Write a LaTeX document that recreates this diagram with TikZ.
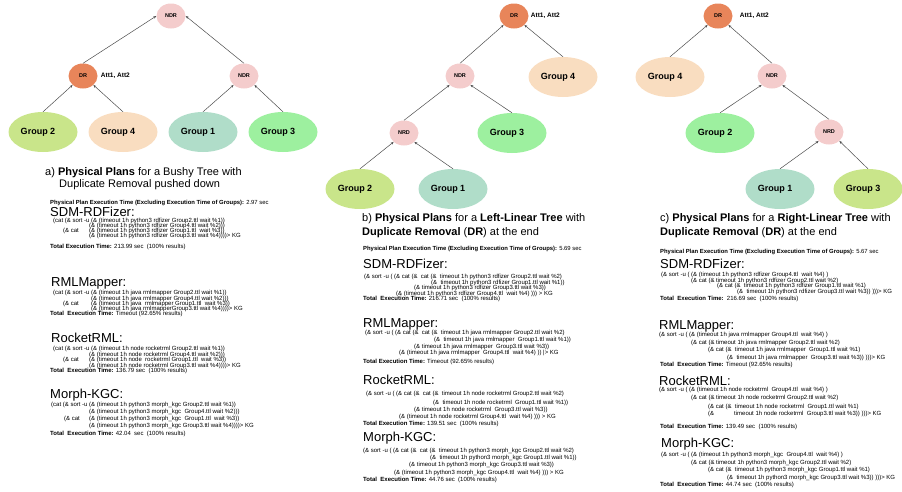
\documentclass[tikz,border=0pt]{standalone}
\usepackage{fontspec}
\setmainfont{Liberation Sans}
\usepackage{tikz}
\usetikzlibrary{shapes.geometric, arrows.meta, positioning}

\definecolor{ndrpink}{HTML}{F4CCCC}
\definecolor{drorange}{HTML}{E8855A}
\definecolor{limegrp}{HTML}{C9E58A}
\definecolor{peachgrp}{HTML}{F9DDC0}
\definecolor{mintgrp}{HTML}{B0DDC9}
\definecolor{greengrp}{HTML}{9DF09F}

\begin{document}
\begin{tikzpicture}[
    x=1pt, y=-1pt,
    opnode/.style={ellipse, minimum width=29pt, minimum height=25pt, inner sep=0pt, font=\fontsize{5.5}{6}\selectfont\bfseries},
    ndr/.style={opnode, fill=ndrpink},
    dr/.style={opnode, fill=drorange},
    grp/.style={ellipse, minimum width=69pt, minimum height=40pt, inner sep=0pt, font=\fontsize{9}{10}\selectfont\bfseries, execute at end node={\hspace{10pt}}},
    att/.style={font=\fontsize{6.5}{7}\selectfont\bfseries, inner sep=0pt},
    flow/.style={-{Stealth[length=3pt,width=2.4pt]}, line width=0.5pt, black!70},
    title/.style={font=\fontsize{11}{12}\selectfont, anchor=west, inner sep=0pt},
    ptime/.style={font=\fontsize{5.9}{6}\selectfont, anchor=west, inner sep=0pt},
    tool/.style={font=\fontsize{13}{14}\selectfont, anchor=west, inner sep=0pt},
    code/.style={font=\fontsize{6}{6}\selectfont, anchor=west, inner sep=0pt}
]
\useasboundingbox (0,0) rectangle (902,491);

% a) bushy tree
\node[ndr] (ndra)  at (171,16) {NDR};
\node[dr]  (dra)   at (83,76)  {DR};
\node[ndr] (ndrra) at (244,76) {NDR};
\node[att, right=3pt of dra] (atta) {Att1, Att2};
\node[grp, fill=limegrp]  (g2a) at (43,132)  {Group 2};
\node[grp, fill=peachgrp] (g4a) at (123,132) {Group 4};
\node[grp, fill=mintgrp]  (g1a) at (203,132) {Group 1};
\node[grp, fill=greengrp] (g3a) at (283,132) {Group 3};

\draw[flow] (dra.north) -- (ndra.west);
\draw[flow] (ndrra.north) -- (ndra.east);
\foreach \c/\p in {g2a/dra, g1a/ndrra} {
    \draw[flow] (\c.north) -- (\p.south west);
}
\foreach \c/\p in {g4a/dra, g3a/ndrra} {
    \draw[flow] (\c.north) -- (\p.south east);
}

% b) left-linear tree
\node[dr]  (drb)  at (514,16) {DR};
\node[att, right=2pt of drb] (attb) {Att1, Att2};
\node[ndr] (ndrb) at (460,76) {NDR};
\node[grp, fill=peachgrp] (g4b) at (563,77) {Group 4};
\node[ndr] (nrdb) at (404,133) {NRD};
\node[grp, fill=greengrp] (g3b) at (512,133) {Group 3};
\node[grp, fill=limegrp]  (g2b) at (360,189) {Group 2};
\node[grp, fill=mintgrp]  (g1b) at (453,189) {Group 1};

\foreach \c/\p in {ndrb/drb, nrdb/ndrb, g2b/nrdb} {
    \draw[flow] (\c.north) -- (\p.south west);
}
\foreach \c/\p in {g4b/drb, g3b/ndrb, g1b/nrdb} {
    \draw[flow] (\c.north) -- (\p.south east);
}

% c) right-linear tree
\node[dr]  (drc)  at (718,16) {DR};
\node[att, right=7pt of drc] (attc) {Att1, Att2};
\node[grp, fill=peachgrp] (g4c) at (670,77) {Group 4};
\node[ndr] (ndrc) at (772,76) {NDR};
\node[grp, fill=greengrp] (g2c) at (720,133) {Group 2};
\node[ndr] (nrdc) at (829,132) {NRD};
\node[grp, fill=mintgrp]  (g1c) at (780,189) {Group 1};
\node[grp, fill=limegrp]  (g3c) at (868,189) {Group 3};

\foreach \c/\p in {g4c/drc, g2c/ndrc, g1c/nrdc} {
    \draw[flow] (\c.north) -- (\p.south west);
}
\foreach \c/\p in {ndrc/drc, nrdc/ndrc, g3c/nrdc} {
    \draw[flow] (\c.north) -- (\p.south east);
}

% captions
\node[title] (tita1) at (45,173) {a) \textbf{Physical Plans} for a Bushy Tree with};
\node[title] (tita2) at (59,185) {Duplicate Removal pushed down};
\node[title] (titb1) at (362,219) {b) \textbf{Physical Plans} for a \textbf{Left-Linear Tree} with};
\node[title] (titb2) at (362,233) {\textbf{Duplicate Removal} (\textbf{DR}) at the end};
\node[title] (titc1) at (660,219) {c) \textbf{Physical Plans} for a \textbf{Right-Linear Tree} with};
\node[title] (titc2) at (660,233) {\textbf{Duplicate Removal} (\textbf{DR}) at the end};

\node[ptime] (pta) at (50,203)  {\textbf{Physical Plan Execution Time (Excluding Execution Time of Groups):} 2.97 sec};
\node[ptime] (ptb) at (363,249) {\textbf{Physical Plan Execution Time (Excluding Execution Time of Groups):} 5.69 sec};
\node[ptime] (ptc) at (660,252) {\textbf{Physical Plan Execution Time (Excluding Execution Time of Groups):} 5.67 sec};

% tool names
\foreach \x/\y/\nm [count=\i] in {50/212/SDM-RDFizer:, 51/283/RMLMapper:, 51/338/RocketRML:, 50/395/Morph-KGC:} {
    \node[tool] (toola\i) at (\x,\y) {\nm};
}
\foreach \x/\y/\nm [count=\i] in {363/264/SDM-RDFizer:, 363/324/RMLMapper:, 363/380/RocketRML:, 363/438/Morph-KGC:} {
    \node[tool] (toolb\i) at (\x,\y) {\nm};
}
\foreach \x/\y/\nm [count=\i] in {660/264/SDM-RDFizer:, 659/326/RMLMapper:, 659/381/RocketRML:, 661/444/Morph-KGC:} {
    \node[tool] (toolc\i) at (\x,\y) {\nm};
}

% a) code lines
\foreach \x/\y/\txt [count=\i] in {
    53/221/{(cat (\& sort -u (\& (timeout 1h python3 rdfizer Group2.ttl wait \%1))},
    89/226/{(\& (timeout 1h python3 rdfizer Group4.ttl wait \%2)))},
    63/231/{(\& cat},
    89/231/{(\& (timeout 1h python3 rdfizer Group1.ttl\ \ wait \%3))},
    89/236/{(\& (timeout 1h python3 rdfizer Group3.ttl wait \%4))))> KG},
    50/247/{\textbf{Total Execution Time:} 213.99 sec\ \ (100\% results)}} {
    \node[code] (sdma\i) at (\x,\y) {\txt};
}
\foreach \x/\y/\txt [count=\i] in {
    53/293/{(cat (\& sort -u (\& (timeout 1h java rmlmapper Group2.ttl wait \%1))},
    91/299/{(\& (timeout 1h java rmlmapper Group4.ttl wait \%2)))},
    63/304/{(\& cat},
    91/304/{(\& (timeout 1h java\ \ rmlmapper Group1.ttl\ \ wait \%3))},
    91/309/{(\& (timeout 1h java rmlmapperGroup3.ttl wait \%4))))> KG},
    50/314/{\textbf{Total\ \ Execution Time:} Timeout (92.65\% results)}} {
    \node[code] (rmla\i) at (\x,\y) {\txt};
}
\foreach \x/\y/\txt [count=\i] in {
    53/349/{(cat (\& sort -u (\& (timeout 1h node rocketrml Group2.ttl wait \%1))},
    89/355/{(\& (timeout 1h node rocketrml Group4.ttl wait \%2)))},
    63/360/{(\& cat},
    89/360/{(\& (timeout 1h node\ \ rocketrml Group1.ttl\ \ wait \%3))},
    89/366/{(\& (timeout 1h node rocketrml Group3.ttl wait \%4))))> KG},
    50/371/{\textbf{Total\ \ Execution Time:} 136.79 sec\ \ (100\% results)}} {
    \node[code] (rocka\i) at (\x,\y) {\txt};
}
\foreach \x/\y/\txt [count=\i] in {
    51/405/{(cat (\& sort -u (\& (timeout 1h python3 morph\_kgc Group2.ttl wait \%1))},
    89/412/{(\& (timeout 1h python3 morph\_kgc\ \ Group4.ttl wait \%2)))},
    64/419/{(\& cat},
    89/419/{(\& (timeout 1h python3 morph\_kgc\ \ Group1.ttl\ \ wait \%3))},
    89/426/{(\& (timeout 1h python3 morph\_kgc Group3.ttl wait \%4))))> KG},
    50/434/{\textbf{Total\ \ Execution Time:} 42.04\ \ sec\ \ (100\% results)}} {
    \node[code] (morpha\i) at (\x,\y) {\txt};
}

% b) code lines
\foreach \x/\y/\txt [count=\i] in {
    364/277/{(\& sort -u ( (\& cat (\&\ \ cat (\&\ \ timeout 1h python3 rdfizer Group2.ttl wait \%2)},
    431/283/{(\&\ \ timeout 1h python3 rdfizer Group1.ttl wait \%1))},
    414/288/{(\& timeout 1h python3 rdfizer Group3.ttl wait \%3))},
    396/294/{(\& (timeout 1h python3 rdfizer Group4.ttl\ \ wait \%4) ))) > KG},
    363/299/{\textbf{Total\ \ Execution Time:} 216.71 sec\ \ (100\% results)}} {
    \node[code] (sdmb\i) at (\x,\y) {\txt};
}
\foreach \x/\y/\txt [count=\i] in {
    365/333/{(\& sort -u ( (\& cat (\&\ \ cat (\&\ \ timeout 1h java rmlmapper Group2.ttl wait \%2)},
    434/340/{(\&\ \ timeout 1h java rmlmapper\ \ Group1.ttl wait \%1))},
    414/347/{(\& timeout 1h java rmlmapper\ \ Group3.ttl wait \%3))},
    399/353/{(\& (timeout 1h java rmlmapper\ \ Group4.ttl\ \ wait \%4) )) |> KG},
    363/362/{\textbf{Total Execution Time:} Timeout (92.65\% results)}} {
    \node[code] (rmlb\i) at (\x,\y) {\txt};
}
\foreach \x/\y/\txt [count=\i] in {
    366/394/{(\& sort -u ( (\& cat (\&\ \ cat (\&\ \ timeout 1h node rocketrml Group2.ttl wait \%2)},
    433/403/{(\&\ \ timeout 1h node rocketrml\ \ Group1.ttl wait \%1))},
    414/410/{(\& timeout 1h node rocketrml\ \ Group3.ttl wait \%3))},
    399/417/{(\& (timeout 1h node rocketrml Group4.ttl\ \ wait \%4) ))) > KG},
    363/424/{\textbf{Total Execution Time:} 139.51 sec\ \ (100\% results)}} {
    \node[code] (rockb\i) at (\x,\y) {\txt};
}
\foreach \x/\y/\txt [count=\i] in {
    363/451/{(\& sort -u ( (\& cat (\&\ \ cat (\&\ \ timeout 1h python3 morph\_kgc Group2.ttl wait \%2)},
    430/458/{(\&\ \ timeout 1h python3 morph\_kgc Group1.ttl wait \%1))},
    409/465/{(\& timeout 1h python3 morph\_kgc Group3.ttl wait \%3))},
    394/473/{(\& (timeout 1h python3 morph\_kgc Group4.ttl\ \ wait \%4) ))) > KG},
    363/480/{\textbf{Total\ \ Execution Time:} 44.76 sec\ \ (100\% results)}} {
    \node[code] (morphb\i) at (\x,\y) {\txt};
}

% c) code lines
\foreach \x/\y/\txt [count=\i] in {
    661/275/{(\& sort -u ( (\& (timeout 1h python3 rdfizer Group4.ttl\ \ wait \%4) )},
    691/281/{(\& cat (\& timeout 1h python3 rdfizer Group2.ttl wait \%2)},
    717/286/{(\& cat (\&\ \ timeout 1h python3 rdfizer Group1.ttl wait \%1)},
    737/292/{(\&\ \ timeout 1h python3 rdfizer Group3.ttl wait \%3)) )))> KG},
    660/299/{\textbf{Total\ \ Execution Time:}\ \ 216.69 sec\ \ (100\% results)}} {
    \node[code] (sdmc\i) at (\x,\y) {\txt};
}
\foreach \x/\y/\txt [count=\i] in {
    659/335/{(\& sort -u ( (\& (timeout 1h java rmlmapper Group4.ttl\ \ wait \%4) )},
    691/343/{(\& cat (\& timeout 1h java rmlmapper Group2.ttl wait \%2)},
    708/350/{(\& cat (\&\ \ timeout 1h java rmlmapper\ \ Group1.ttl wait \%1)},
    727/358/{(\&\ \ timeout 1h java rmlmapper\ \ Group3.ttl wait \%3)) )))> KG},
    660/365/{\textbf{Total\ \ Execution Time:} Timeout (92.65\% results)}} {
    \node[code] (rmlc\i) at (\x,\y) {\txt};
}
\foreach \x/\y/\txt [count=\i] in {
    659/390/{(\& sort -u ( (\& (timeout 1h node rocketrml\ \ Group4.ttl\ \ wait \%4) )},
    691/398/{(\& cat (\& timeout 1h node rocketrml Group2.ttl wait \%2)},
    708/407/{(\& cat (\&\ \ timeout 1h node rocketrml\ \ Group1.ttl wait \%1)},
    708/414/{(\&},
    734/414/{timeout 1h node rocketrml\ \ Group3.ttl wait \%3)) )))> KG},
    660/427/{\textbf{Total\ \ Execution Time:} 139.49 sec\ \ (100\% results)}} {
    \node[code] (rockc\i) at (\x,\y) {\txt};
}
\foreach \x/\y/\txt [count=\i] in {
    661/455/{(\& sort -u ( (\& (timeout 1h python3 morph\_kgc\ \ Group4.ttl\ \ wait \%4) )},
    691/463/{(\& cat (\& timeout 1h python3 morph\_kgc Group2.ttl wait \%2)},
    708/470/{(\& cat (\&\ \ timeout 1h python3 morph\_kgc Group1.ttl wait \%1)},
    727/478/{(\&\ \ timeout 1h python3 morph\_kgc Group3.ttl wait \%3)) )))> KG},
    660/485/{\textbf{Total\ \ Execution Time:} 44.74 sec\ \ (100\% results)}} {
    \node[code] (morphc\i) at (\x,\y) {\txt};
}

\end{tikzpicture}
\end{document}
